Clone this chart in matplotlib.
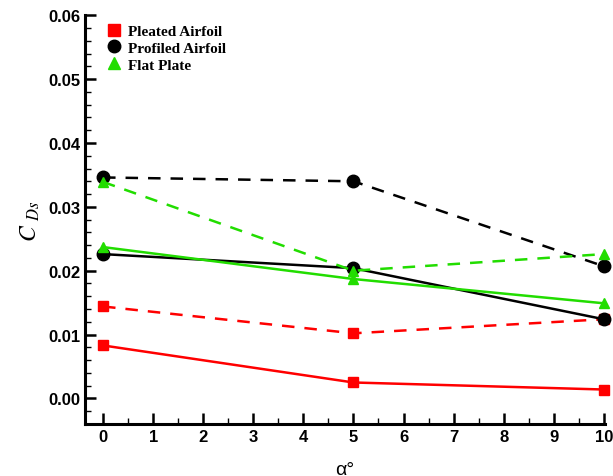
import matplotlib
matplotlib.use("Agg")
import matplotlib.pyplot as plt
from matplotlib.ticker import MultipleLocator

plt.rcParams["mathtext.fontset"] = "stix"

alpha = [0, 5, 10]
pleated_solid = [0.0083, 0.0025, 0.0014]
pleated_dashed = [0.0144, 0.0102, 0.0124]
profiled_solid = [0.0226, 0.0204, 0.0124]
profiled_dashed = [0.0346, 0.0340, 0.0207]
flat_solid = [0.0237, 0.0187, 0.0149]
flat_dashed = [0.0339, 0.0200, 0.0226]

red = "#ff0000"
green = "#22dd00"

fig = plt.figure(figsize=(6.13, 4.77), dpi=100)
ax = fig.add_axes([0.1387, 0.109, 0.848, 0.857])

lw = 1.8
ms = 7
kw = dict(clip_on=False, dash_capstyle="butt")
ax.plot(alpha, pleated_solid, "-s", color=red, lw=lw, ms=ms, **kw)
ax.plot(alpha, pleated_dashed, "--s", color=red, lw=lw, ms=ms, dashes=(5, 4), **kw)
ax.plot(alpha, profiled_dashed, "--o", color="black", lw=lw, ms=9, dashes=(5, 4), **kw)
ax.plot(alpha, profiled_solid, "-o", color="black", lw=lw, ms=9, **kw)
ax.plot(alpha, flat_dashed, "--^", color=green, lw=lw, ms=ms, dashes=(5, 4), **kw)
ax.plot(alpha, flat_solid, "-^", color=green, lw=lw, ms=ms, **kw)

# legend markers only
h1, = ax.plot([], [], "s", color=red, ms=9)
h2, = ax.plot([], [], "o", color="black", ms=9)
h3, = ax.plot([], [], "^", color=green, ms=9)
leg = ax.legend([h1, h2, h3], ["Pleated Airfoil", "Profiled Airfoil", "Flat Plate"],
                loc="upper left", bbox_to_anchor=(0.02, 1.0), frameon=False,
                prop={"family": "Liberation Serif", "weight": "bold", "size": 11},
                handletextpad=0.3, labelspacing=0.2, borderaxespad=0.2, handlelength=1.2)

ax.set_xlim(-0.36, 10.02)
ax.set_ylim(-0.004, 0.06)
ax.xaxis.set_major_locator(MultipleLocator(1))
ax.xaxis.set_minor_locator(MultipleLocator(0.5))
ax.yaxis.set_major_locator(MultipleLocator(0.01))
ax.yaxis.set_minor_locator(MultipleLocator(0.002))
ax.yaxis.set_major_formatter(plt.FormatStrFormatter("%.2f"))

for s in ["top", "right"]:
    ax.spines[s].set_visible(False)
for s in ["left", "bottom"]:
    ax.spines[s].set_linewidth(2.2)

ax.tick_params(which="major", direction="in", length=8, width=1.8)
ax.tick_params(which="minor", direction="in", length=4, width=1.0)
for lab in ax.get_xticklabels() + ax.get_yticklabels():
    lab.set_fontweight("bold")
    lab.set_fontfamily("Liberation Sans")
    lab.set_fontsize(12)

ax.set_xlabel("α°", fontsize=14, fontfamily="Liberation Sans", labelpad=12)
ax.set_ylabel(r"$C\ _{\mathbf{\mathit{Ds}}}$", fontsize=17, labelpad=4)

fig.savefig("out.png", dpi=100)
